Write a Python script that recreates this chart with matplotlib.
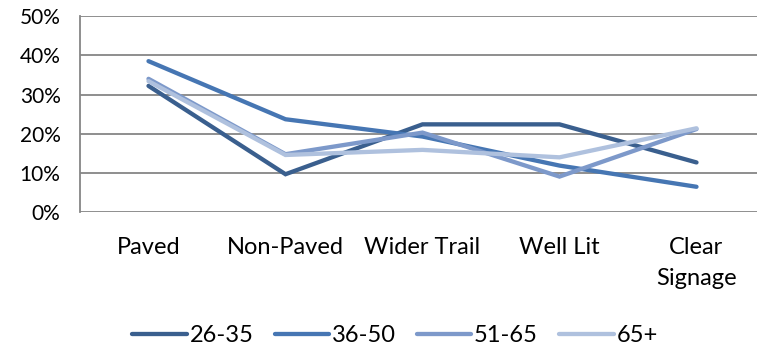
import matplotlib.pyplot as plt
from matplotlib.ticker import PercentFormatter

categories = ['Paved', 'Non-Paved', 'Wider Trail', 'Well Lit', 'Clear\nSignage']
series_names = ['26-35', '36-50', '51-65', '65+']
v_26_35 = [32.2, 9.7, 22.4, 22.4, 12.7]
v_36_50 = [38.5, 23.7, 19.3, 11.9, 6.5]
v_51_65 = [34.0, 14.8, 20.3, 9.1, 21.2]
v_65_up = [33.4, 14.6, 15.9, 14.0, 21.4]
colors = ['#3A5F8E', '#4676B3', '#7D99CA', '#AFC1DE']

plt.rcParams['font.family'] = ['Lato', 'DejaVu Sans']

fig = plt.figure(figsize=(7.57, 3.49), dpi=100)
ax = fig.add_axes([80 / 757, 1 - 212.3 / 349, 685 / 757, 196.3 / 349])

x = range(len(categories))
for vals, name, c in zip([v_26_35, v_36_50, v_51_65, v_65_up], series_names, colors):
    ax.plot(x, vals, color=c, lw=3.1, label=name, solid_capstyle='round', solid_joinstyle='miter')

ax.set_xlim(-0.5, 4.5)
ax.set_ylim(0, 50)
ax.set_yticks(range(0, 51, 10))
ax.yaxis.set_major_formatter(PercentFormatter(decimals=0))
ax.set_xticks(list(x))
ax.set_xticklabels(categories, fontsize=17, linespacing=1.55, va='top')
ax.tick_params(axis='y', labelsize=15, length=0, pad=14)
ax.tick_params(axis='x', length=0, pad=18)
ax.grid(axis='y', color='#868686', lw=1.3)
ax.set_axisbelow(True)
for s in ['top', 'right', 'bottom']:
    ax.spines[s].set_visible(False)
ax.spines['left'].set_color('#868686')
ax.spines['left'].set_linewidth(1.3)

fig.legend(loc='center', bbox_to_anchor=(395 / 757, 1 - 336 / 349), ncol=4, frameon=False,
           fontsize=17, handlelength=2.3, handletextpad=0.12, columnspacing=0.9)

fig.savefig('out.png', dpi=100)
